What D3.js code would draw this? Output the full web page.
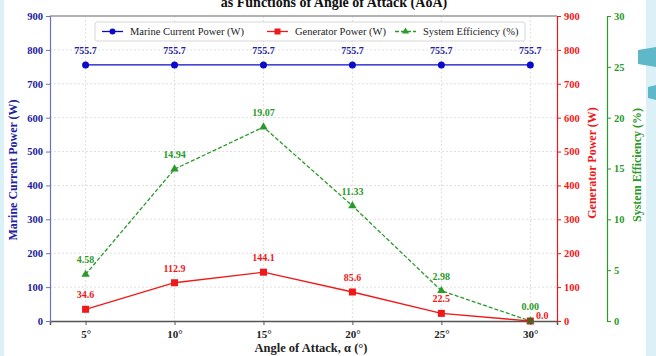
<!DOCTYPE html>
<html>
<head>
<meta charset="utf-8">
<script src="https://cdn.jsdelivr.net/npm/d3@7"></script>
<style>
  body { margin: 0; background: #fff; }
  svg { display: block; font-family: "Liberation Serif", "DejaVu Serif", serif; }
</style>
</head>
<body>
<svg id="chart" width="656" height="356"></svg>
<script>
// data
const angles = [5, 10, 15, 20, 25, 30];
const marinePower = [755.7, 755.7, 755.7, 755.7, 755.7, 755.7];
const generatorPower = [34.6, 112.9, 144.1, 85.6, 22.5, 0.0];
const efficiency = [4.58, 14.94, 19.07, 11.33, 2.98, 0.00];
const powerTicks = [0, 100, 200, 300, 400, 500, 600, 700, 800, 900];
const effTicks = [0, 5, 10, 15, 20, 25, 30];

const BLUE = '#0a0ac8', RED = '#f01818', GREEN = '#2a9a2a';

const svg = d3.select('#chart');
const plotL = 50, plotR = 557, plotT = 16, plotB = 321;

// page edges (screenshot surroundings)
svg.append('rect').attr('x', 0).attr('y', 0).attr('width', 4).attr('height', 356).attr('fill', '#dcf0f7');
svg.append('rect').attr('x', 646).attr('y', 0).attr('width', 10).attr('height', 356).attr('fill', '#dcf0f7');
svg.append('path').attr('d', 'M638,50 L656,47 L656,67 L638,64 Z').attr('fill', '#5fb8c8');
svg.append('path').attr('d', 'M648,87 L656,85 L656,100 L648,98 Z').attr('fill', '#5fb8c8');

const x = d3.scaleLinear().domain([3, 31.5]).range([plotL, plotR]);
const yP = d3.scaleLinear().domain([0, 900]).range([plotB, plotT]);
const yE = d3.scaleLinear().domain([0, 30]).range([plotB, plotT]);

// title (mostly cut off at the top)
svg.append('text').attr('x', 334).attr('y', 7).attr('text-anchor', 'middle')
  .attr('font-size', 14).attr('font-weight', 'bold').attr('fill', '#111')
  .text('as Functions of Angle of Attack (AoA)');

// grid
const grid = svg.append('g');
grid.selectAll('.gx').data(angles).join('line')
  .attr('x1', d => x(d)).attr('x2', d => x(d)).attr('y1', plotT).attr('y2', plotB)
  .attr('stroke', '#d8d8d8').attr('stroke-width', 0.8).attr('stroke-dasharray', '2,2');
grid.selectAll('.gy').data(powerTicks.slice(1, -1)).join('line')
  .attr('x1', plotL).attr('x2', plotR).attr('y1', d => yP(d)).attr('y2', d => yP(d))
  .attr('stroke', '#d8d8d8').attr('stroke-width', 0.8).attr('stroke-dasharray', '2,2');

// spines
svg.append('line').attr('x1', plotL).attr('x2', plotR).attr('y1', plotT).attr('y2', plotT)
  .attr('stroke', '#999').attr('stroke-width', 1.5);

// x axis
const xAxis = svg.append('g').attr('transform', `translate(0,${plotB})`)
  .call(d3.axisBottom(x).tickValues(angles).tickFormat(d => d + '°').tickSize(4).tickPadding(5));
xAxis.select('.domain').attr('stroke', '#555').attr('stroke-width', 1.5);
xAxis.selectAll('text').attr('font-size', 11).attr('font-weight', 'bold').attr('fill', '#222')
  .attr('font-family', '"Liberation Serif", serif');
xAxis.selectAll('line').attr('stroke', '#555');

// left axis
const yAxisL = svg.append('g').attr('transform', `translate(${plotL},0)`)
  .call(d3.axisLeft(yP).tickValues(powerTicks).tickSize(4).tickPadding(3));
yAxisL.select('.domain').attr('stroke', '#7070c0').attr('stroke-width', 1.2);
yAxisL.selectAll('line').attr('stroke', '#7070c0');
yAxisL.selectAll('text').attr('font-size', 10.5).attr('font-weight', 'bold').attr('fill', '#2020a0')
  .attr('font-family', '"Liberation Serif", serif');

// right axis (generator)
const yAxisR = svg.append('g').attr('transform', `translate(${plotR},0)`)
  .call(d3.axisRight(yP).tickValues(powerTicks).tickSize(4).tickPadding(3));
yAxisR.select('.domain').attr('stroke', RED).attr('stroke-width', 1.2);
yAxisR.selectAll('line').attr('stroke', RED);
yAxisR.selectAll('text').attr('font-size', 10.5).attr('font-weight', 'bold').attr('fill', RED)
  .attr('font-family', '"Liberation Serif", serif');

// efficiency axis
const yAxisE = svg.append('g').attr('transform', `translate(607,0)`)
  .call(d3.axisRight(yE).tickValues(effTicks).tickSize(4).tickPadding(3));
yAxisE.select('.domain').attr('stroke', GREEN).attr('stroke-width', 1.2);
yAxisE.selectAll('line').attr('stroke', GREEN);
yAxisE.selectAll('text').attr('font-size', 10.5).attr('font-weight', 'bold').attr('fill', GREEN)
  .attr('font-family', '"Liberation Serif", serif');

// axis titles
svg.append('text').attr('x', 311).attr('y', 352).attr('text-anchor', 'middle')
  .attr('font-size', 12.5).attr('font-weight', 'bold').attr('fill', '#222')
  .text('Angle of Attack, α (°)');
svg.append('text').attr('transform', 'translate(17,170) rotate(-90)').attr('text-anchor', 'middle')
  .attr('font-size', 12).attr('font-weight', 'bold').attr('fill', '#2020a0')
  .text('Marine Current Power (W)');
svg.append('text').attr('transform', 'translate(596,163) rotate(-90)').attr('text-anchor', 'middle')
  .attr('font-size', 12).attr('font-weight', 'bold').attr('fill', RED)
  .text('Generator Power (W)');
svg.append('text').attr('transform', 'translate(641,165) rotate(-90)').attr('text-anchor', 'middle')
  .attr('font-size', 12).attr('font-weight', 'bold').attr('fill', GREEN)
  .text('System Efficiency (%)');

// series
const mData = angles.map((a, i) => [a, marinePower[i]]);
const gData = angles.map((a, i) => [a, generatorPower[i]]);
const eData = angles.map((a, i) => [a, efficiency[i]]);

const lineP = d3.line().x(d => x(d[0])).y(d => yP(d[1]));
const lineE = d3.line().x(d => x(d[0])).y(d => yE(d[1]));

svg.append('path').attr('d', lineP(mData)).attr('fill', 'none').attr('stroke', BLUE).attr('stroke-width', 1.3);
svg.append('path').attr('d', lineP(gData)).attr('fill', 'none').attr('stroke', RED).attr('stroke-width', 1.3);
svg.append('path').attr('d', lineE(eData)).attr('fill', 'none').attr('stroke', GREEN).attr('stroke-width', 1.3)
  .attr('stroke-dasharray', '4,2');

svg.selectAll('.mk').data(mData).join('circle')
  .attr('cx', d => x(d[0])).attr('cy', d => yP(d[1])).attr('r', 3.5).attr('fill', BLUE);
svg.selectAll('.gk').data(gData).join('rect')
  .attr('x', d => x(d[0]) - 3.5).attr('y', d => yP(d[1]) - 3.5).attr('width', 7).attr('height', 7).attr('fill', RED);
const tri = d3.symbol().type(d3.symbolTriangle).size(30);
svg.selectAll('.ek').data(eData).join('path')
  .attr('d', tri).attr('transform', d => `translate(${x(d[0])},${yE(d[1])})`).attr('fill', GREEN);
// dark overlap marker at the last point
svg.append('circle').attr('cx', x(angles[5])).attr('cy', yP(generatorPower[5])).attr('r', 3)
  .attr('fill', '#5a4a20').attr('opacity', 0.7);

// value labels
const lbl = (data, yS, fmt, color, dx, dy) => svg.selectAll(null).data(data).join('text')
  .attr('x', d => x(d[0]) + dx).attr('y', d => yS(d[1]) + dy).attr('text-anchor', 'middle')
  .attr('font-size', 10).attr('font-weight', 'bold').attr('fill', color).text(d => fmt(d[1]));

lbl(mData, yP, d3.format('.1f'), '#2020a0', 0, -11);
lbl(gData.slice(0, 5), yP, d3.format('.1f'), RED, 0, -11);
lbl(eData.slice(0, 5), yE, d3.format('.2f'), GREEN, 0, -11);
lbl([eData[5]], yE, d3.format('.2f'), GREEN, 0, -11);
lbl([gData[5]], yP, d3.format('.1f'), RED, 12, -2);

// legend
const lg = svg.append('g');
lg.append('rect').attr('x', 95).attr('y', 22).attr('width', 430).attr('height', 19)
  .attr('fill', '#fff').attr('fill-opacity', 0.9).attr('stroke', '#ccc').attr('stroke-width', 0.8).attr('rx', 2);
const items = [
  {name: 'Marine Current Power (W)', color: BLUE, x0: 102, shape: 'circle', dash: null},
  {name: 'Generator Power (W)', color: RED, x0: 267, shape: 'square', dash: null},
  {name: 'System Efficiency (%)', color: GREEN, x0: 395, shape: 'triangle', dash: '4,2'}
];
items.forEach(it => {
  lg.append('line').attr('x1', it.x0).attr('x2', it.x0 + 21).attr('y1', 31.5).attr('y2', 31.5)
    .attr('stroke', it.color).attr('stroke-width', 1.3).attr('stroke-dasharray', it.dash);
  const cx = it.x0 + 10.5;
  if (it.shape === 'circle') lg.append('circle').attr('cx', cx).attr('cy', 31.5).attr('r', 3).attr('fill', it.color);
  if (it.shape === 'square') lg.append('rect').attr('x', cx - 3).attr('y', 28.5).attr('width', 6).attr('height', 6).attr('fill', it.color);
  if (it.shape === 'triangle') lg.append('path').attr('d', d3.symbol().type(d3.symbolTriangle).size(22))
    .attr('transform', `translate(${cx},31.5)`).attr('fill', it.color);
  lg.append('text').attr('x', it.x0 + 28).attr('y', 35).attr('font-size', 10.5).attr('fill', '#222').text(it.name);
});
</script>
</body>
</html>
